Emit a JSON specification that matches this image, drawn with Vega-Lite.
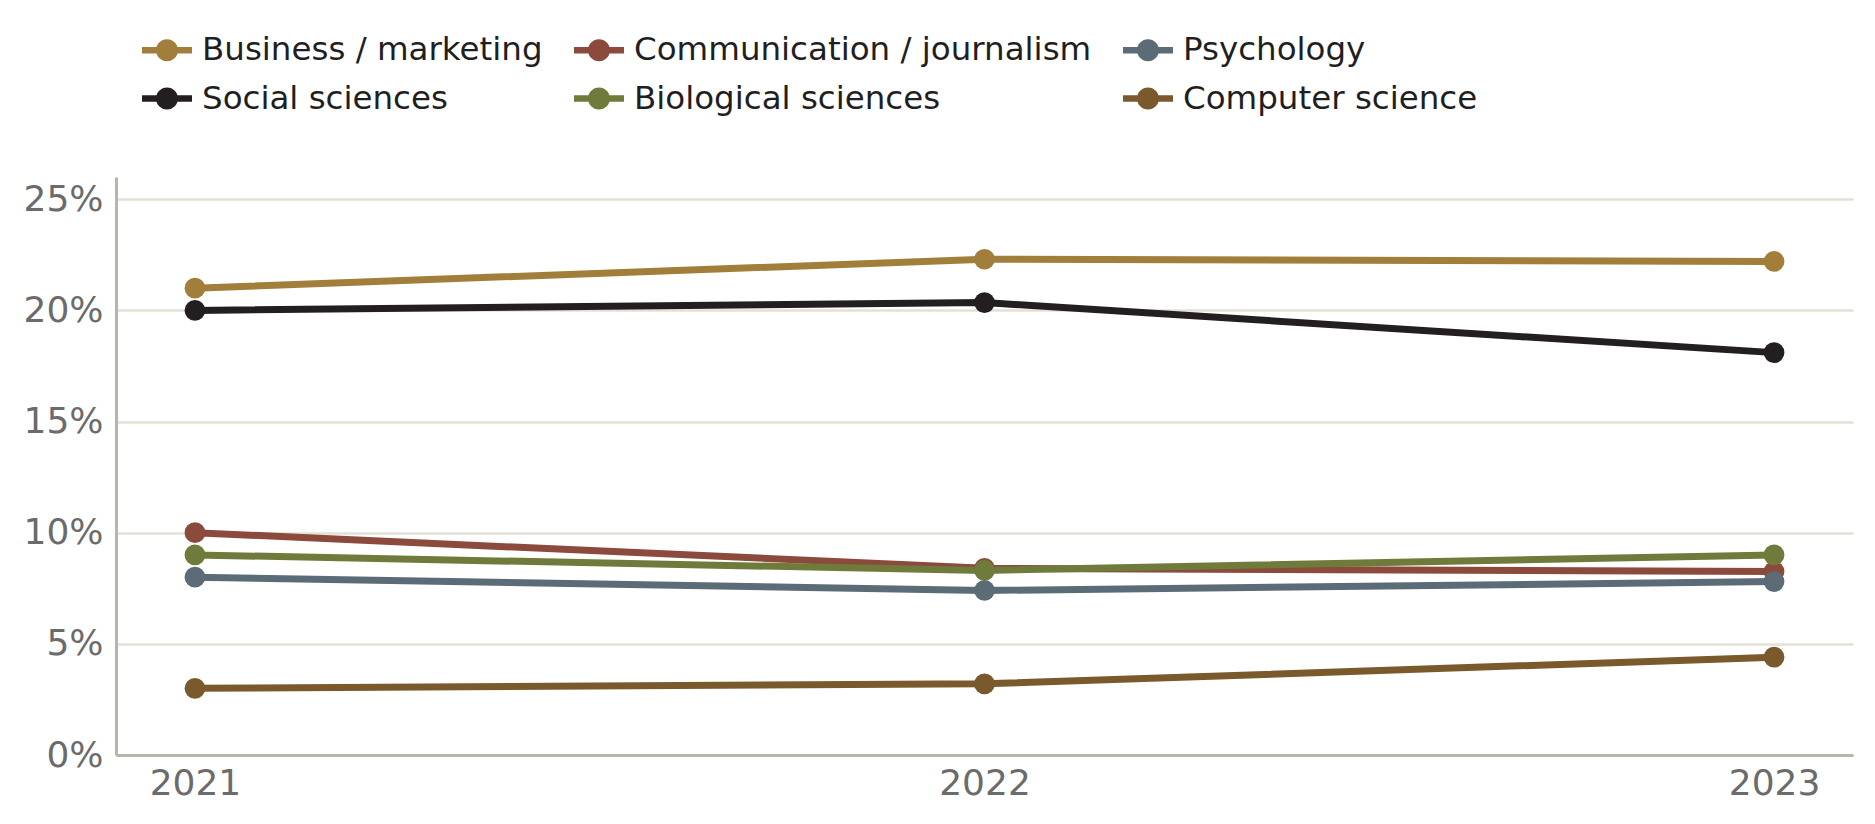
{
  "$schema": "https://vega.github.io/schema/vega-lite/v6.json",
  "autosize": {"type": "none"},
  "padding": {"left": 116, "top": 177, "right": 22, "bottom": 69},
  "width": 1737,
  "height": 578,
  "background": "white",
  "data": {
    "values": [
      {"field": "Business / marketing", "year": "2021", "share": 21.0},
      {"field": "Business / marketing", "year": "2022", "share": 22.3},
      {"field": "Business / marketing", "year": "2023", "share": 22.2},
      {"field": "Social sciences", "year": "2021", "share": 20.0},
      {"field": "Social sciences", "year": "2022", "share": 20.35},
      {"field": "Social sciences", "year": "2023", "share": 18.1},
      {"field": "Communication / journalism", "year": "2021", "share": 10.0},
      {"field": "Communication / journalism", "year": "2022", "share": 8.4},
      {"field": "Communication / journalism", "year": "2023", "share": 8.25},
      {"field": "Biological sciences", "year": "2021", "share": 9.0},
      {"field": "Biological sciences", "year": "2022", "share": 8.3},
      {"field": "Biological sciences", "year": "2023", "share": 9.0},
      {"field": "Psychology", "year": "2021", "share": 8.0},
      {"field": "Psychology", "year": "2022", "share": 7.4},
      {"field": "Psychology", "year": "2023", "share": 7.8},
      {"field": "Computer science", "year": "2021", "share": 3.0},
      {"field": "Computer science", "year": "2022", "share": 3.2},
      {"field": "Computer science", "year": "2023", "share": 4.4}
    ]
  },
  "encoding": {
    "x": {
      "field": "year",
      "type": "ordinal",
      "scale": {"type": "point", "padding": 0.1},
      "axis": {"title": null, "labelAngle": 0, "labelPadding": 11}
    },
    "y": {
      "field": "share",
      "type": "quantitative",
      "scale": {"domain": [0, 26], "nice": false},
      "axis": {
        "title": null,
        "values": [0, 5, 10, 15, 20, 25],
        "labelExpr": "datum.value + '%'",
        "grid": true,
        "labelPadding": 13
      }
    },
    "color": {
      "field": "field",
      "type": "nominal",
      "scale": {
        "domain": [
          "Business / marketing",
          "Social sciences",
          "Communication / journalism",
          "Biological sciences",
          "Psychology",
          "Computer science"
        ],
        "range": ["#A17F3A", "#231F20", "#8B4A3B", "#6F7B3A", "#5B6C77", "#7A5A2C"]
      },
      "legend": {
        "title": null,
        "orient": "none",
        "legendX": 26,
        "legendY": -152,
        "columns": 3,
        "columnPadding": 31,
        "rowPadding": 6.5,
        "padding": 0,
        "symbolType": "M-1,-0.13H1V0.13H-1Z M-0.44,0A0.44,0.44 0 1,1 0.44,0A0.44,0.44 0 1,1 -0.44,0Z",
        "symbolSize": 2500,
        "symbolStrokeWidth": 0,
        "symbolOpacity": 1,
        "labelFont": "DejaVu Sans",
        "labelFontSize": 32.5,
        "labelColor": "#1F1F1F",
        "labelLimit": 700,
        "labelOffset": 10
      }
    }
  },
  "layer": [
    {
      "mark": {"type": "line", "strokeWidth": 7}
    },
    {
      "mark": {"type": "point", "filled": true, "opacity": 1, "size": 430}
    }
  ],
  "config": {
    "view": {"stroke": null},
    "axis": {
      "labelFont": "DejaVu Sans",
      "labelFontSize": 36,
      "labelColor": "#6B6B6B",
      "ticks": false,
      "domainColor": "#B9B5AC",
      "domainWidth": 3,
      "gridColor": "#E2E0D7",
      "gridWidth": 2.5
    },
    "axisX": {"grid": false}
  }
}
